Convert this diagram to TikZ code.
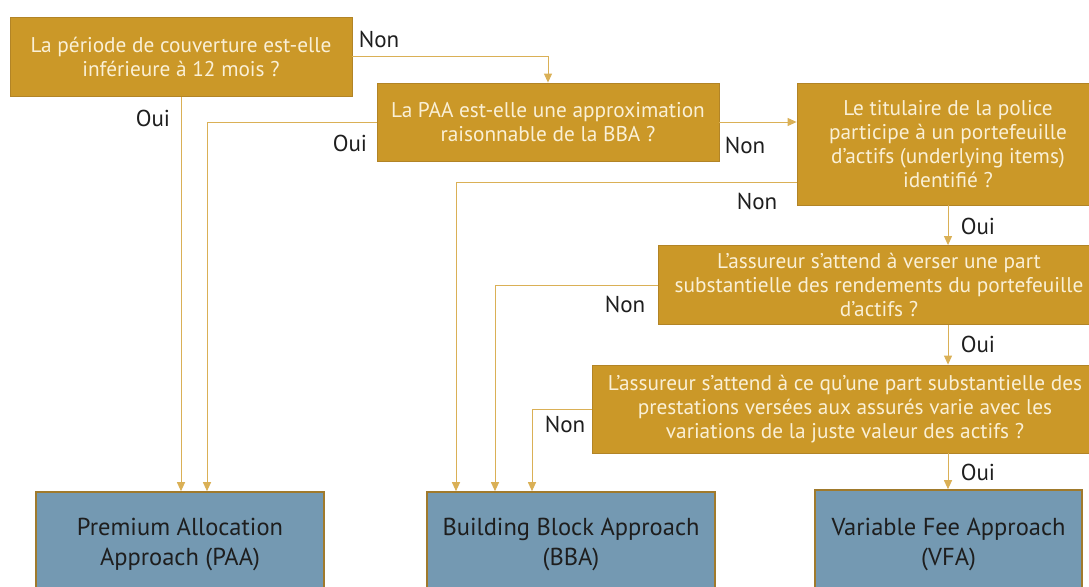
\documentclass[tikz,border=0pt]{standalone}
\usepackage{fontspec}
\setmainfont{PT Sans}
\usetikzlibrary{arrows.meta,calc}
\definecolor{gold}{RGB}{203,152,40}
\definecolor{goldedge}{RGB}{178,132,38}
\definecolor{goldline}{RGB}{218,176,86}
\definecolor{cream}{RGB}{250,240,214}
\definecolor{steel}{RGB}{116,153,178}
\definecolor{steeledge}{RGB}{160,122,44}
\definecolor{labelink}{RGB}{30,30,30}
\tikzset{
  question/.style={draw=goldedge, line width=0.8pt, fill=gold, text=cream,
    align=center, inner sep=0pt, font=\fontsize{21.3}{24}\selectfont},
  outcome/.style={draw=steeledge, line width=1.6pt, fill=steel, text=labelink,
    align=center, inner sep=0pt, minimum width=288pt, minimum height=104pt,
    font=\fontsize{24.5}{30}\selectfont},
  flow/.style={draw=goldline, line width=1pt, -{Triangle[length=9pt,width=8pt]}},
  answer/.style={text=labelink, inner sep=0pt, font=\fontsize{23}{26}\selectfont},
}
\begin{document}
\begin{tikzpicture}[x=1pt,y=-1pt]
\useasboundingbox (0,0) rectangle (1089,586);
\clip (0,0) rectangle (1089,586);

% decision boxes
\node[question, minimum width=342pt, minimum height=79pt] (q1) at (181,57)
  {La période de couverture est-elle\\inférieure à 12 mois ?};
\node[question, minimum width=342pt, minimum height=78pt] (q2) at (548,122)
  {La PAA est-elle une approximation\\raisonnable de la BBA ?};
\node[question, minimum width=302pt, minimum height=122pt] (q3) at (948,144)
  {Le titulaire de la police\\participe à un portefeuille\\d’actifs (underlying items)\\identifié ?};
\node[question, minimum width=441pt, minimum height=79pt] (q4) at (879,285)
  {L’assureur s’attend à verser une part\\substantielle des rendements du portefeuille\\d’actifs ?};
\node[question, minimum width=506pt, minimum height=88pt] (q5) at (845,409)
  {L’assureur s’attend à ce qu’une part substantielle des\\prestations versées aux assurés varie avec les\\variations de la juste valeur des actifs ?};

% outcomes
\node[outcome] (paa) at (180,544) {Premium Allocation\\Approach (PAA)};
\node[outcome] (bba) at (571,544) {Building Block Approach\\(BBA)};
\node[outcome, minimum width=267pt, minimum height=108pt] (vfa) at (948.5,544) {Variable Fee Approach\\(VFA)};

% connectors
\draw[flow] (q1.east) -| (q2.north);
\draw[flow] (q1.south) -- (q1.south |- paa.north);
\draw[flow] (q2.west) -| ($(paa.north)+(27,0)$);
\draw[flow] (q2.east) -- (q3.west |- q2.east);
\draw[flow] ($(q3.west)+(0,38)$) -| ($(bba.north)+(-115,0)$);
\draw[flow] (q3.south) -- (q3.south |- q4.north);
\draw[flow] (q4.west) -| ($(bba.north)+(-76,0)$);
\draw[flow] (q3.south |- q4.south) -- (q3.south |- q5.north);
\draw[flow] (q5.west) -| ($(bba.north)+(-39,0)$);
\draw[flow] (q3.south |- q5.south) -- (q3.south |- vfa.north);

% answers
\node[answer] (a1) at (379,39) {Non};
\node[answer] (a2) at (153,118) {Oui};
\node[answer] (a3) at (350,143) {Oui};
\node[answer] (a4) at (745,145) {Non};
\node[answer] (a5) at (757,201) {Non};
\node[answer] (a6) at (978,226) {Oui};
\node[answer] (a7) at (625,304) {Non};
\node[answer] (a8) at (978,344) {Oui};
\node[answer] (a9) at (565,424) {Non};
\node[answer] (a10) at (978,472) {Oui};
\end{tikzpicture}
\end{document}
